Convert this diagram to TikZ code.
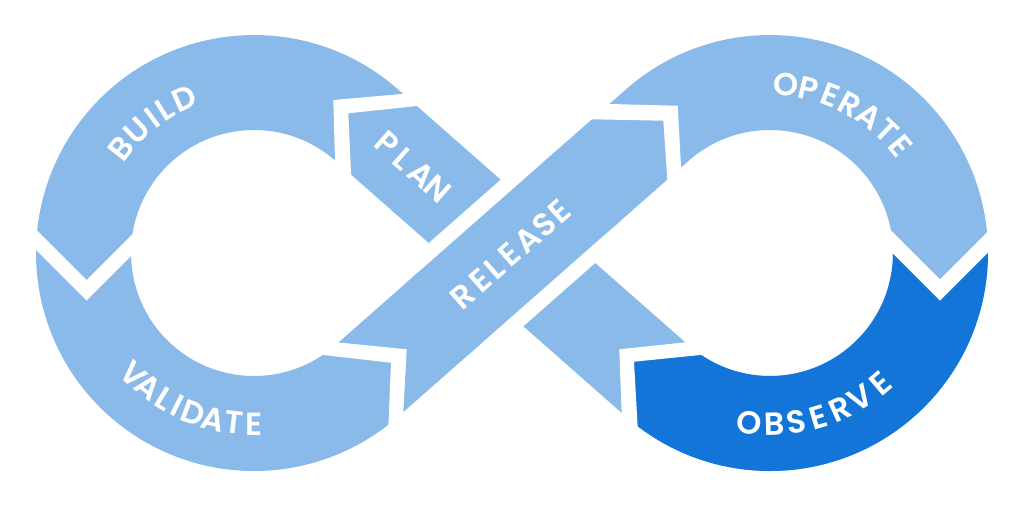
\documentclass[tikz,border=0pt]{standalone}
\usepackage{fontspec}
\newfontfamily\lblfont{Poppins SemiBold}
\usetikzlibrary{calc}
\definecolor{lightb}{RGB}{138,186,234}
\definecolor{darkb}{RGB}{20,117,217}
\begin{document}
\begin{tikzpicture}[x=1pt,y=1pt,
  lbl/.style={text=white, font=\lblfont\fontsize{32}{32}\selectfont, inner sep=0pt, anchor=center},
  band/.style={line width=95pt, line cap=butt, line join=round},
  gap/.style={fill=white, draw=none}]
\useasboundingbox (0,0) rectangle (1026,-515);
\coordinate (L) at (254,-253);
\coordinate (R) at (770,-253);
\coordinate (T1) at (366.68,-125.07);
\coordinate (T2) at (366.68,-380.93);
\coordinate (T3) at (657.32,-125.07);
\coordinate (T4) at (657.32,-380.93);
\coordinate (C) at (512,-253);
% base figure-eight band
\draw[band, lightb] (T1) arc[start angle=48.63, end angle=311.37, radius=170.5] -- (T3)
  arc[start angle=131.37, end angle=-131.37, radius=170.5] -- cycle;
% crossing: release over plan
\draw[line width=125pt, white] ($(C)+(221.37:80)$) -- ($(C)+(41.37:80)$);
\draw[band, lightb] ($(C)+(221.37:100)$) -- ($(C)+(41.37:100)$);
% observe segment
\begin{scope}
\clip (1000,-230) -- (1026,-230) -- (1026,-515) -- (600,-515) -- (630.6,-440) -- (626.7,-355.5)
  -- (710.8,-346.8) -- (876,-226) -- (940,-290) -- cycle;
\draw[band, darkb] (T3) arc[start angle=131.37, end angle=-131.37, radius=170.5] -- ($(T4)+(138.63:60)$);
\end{scope}
% chevron gaps
\fill[gap] (431.9,-104.4) -- (348.3,-113.3) -- (351.7,-188) -- (335.5,-178) -- (333.3,-100) -- (420,-92.4) -- cycle;
\fill[gap] (22,-215.3) -- (86.7,-280) -- (146.7,-220) -- (146.7,-240.5) -- (86.7,-300.5) -- (22,-235.8) -- cycle;
\fill[gap] (303.4,-352.7) -- (391,-362.7) -- (387.5,-446.7) -- (402.2,-432.7) -- (406.7,-349.3) -- (320.8,-340.7) -- cycle;
\fill[gap] (571.7,-118.9) -- (663.3,-120.7) -- (668.7,-199.3) -- (682.1,-186) -- (677.7,-105.7) -- (589.3,-103.5) -- cycle;
\fill[gap] (1000,-219.3) -- (940,-279.3) -- (876,-215.3) -- (876,-236.7) -- (940,-300.7) -- (1000,-240.7) -- cycle;
\fill[gap] (719.9,-353) -- (634,-361.7) -- (638.8,-447.3) -- (622.4,-433.3) -- (619.3,-349.3) -- (701.6,-340.6) -- cycle;
% labels along arcs
\foreach \ch/\a [count=\i] in {B/141.6,U/133.7,I/126.9,L/121.9,D/114.3}
  \node[lbl, rotate=\a-90] (build\i) at ($(L)+(\a:169)$) {\ch};
\foreach \ch/\a [count=\i] in {V/-134.7,A/-128.3,L/-121.7,I/-116.7,D/-110.7,A/-103.9,T/-96.6,E/-90.0}
  \node[lbl, rotate=\a+90] (validate\i) at ($(L)+(\a:171)$) {\ch};
\foreach \ch/\a [count=\i] in {O/84.5,P/76.7,E/69.1,R/61.7,A/54,T/46.3,E/39.3}
  \node[lbl, rotate=\a-90] (operate\i) at ($(R)+(\a:169)$) {\ch};
\foreach \ch/\a [count=\i] in {O/-96.9,B/-88.5,S/-81.1,E/-73.4,R/-65.7,V/-58.1,E/-49.6}
  \node[lbl, rotate=\a+90] (observe\i) at ($(R)+(\a:171)$) {\ch};
% straight labels
\coordinate (planc) at (412,-166);
\foreach \ch/\o [count=\i] in {P/-33.5,L/-11,A/12.5,N/34.5}
  \node[lbl, rotate=-41.37] (plan\i) at ($(planc)+(-41.37:\o)$) {\ch};
\foreach \ch/\o [count=\i] in {R/-65.5,E/-41.8,L/-22.9,E/-2.8,A/20.8,S/43.3,E/63.3}
  \node[lbl, rotate=41.37] (release\i) at ($(C)+(41.37:\o)$) {\ch};
\end{tikzpicture}
\end{document}
